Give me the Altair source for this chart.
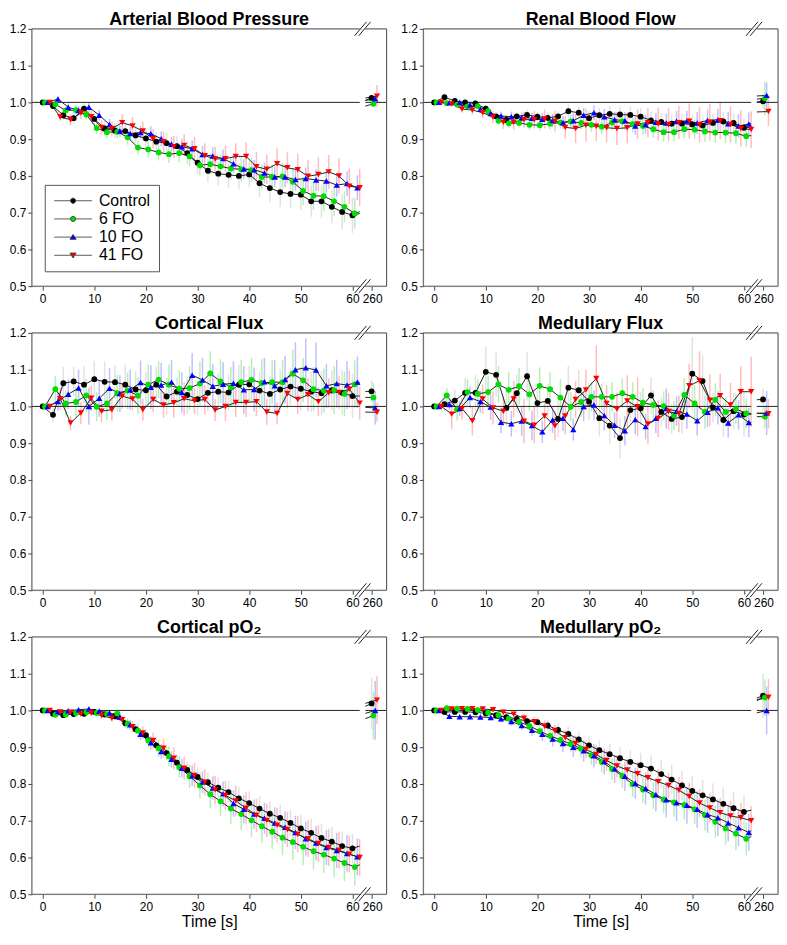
import altair as alt
import pandas as pd

FONT = "Liberation Sans"

SERIES = ["Control", "6 FO", "10 FO", "41 FO"]
COLORS = ["#000000", "#00dd00", "#0000ff", "#ff0000"]
BAR_COLORS = ["#e2e2e2", "#b6f0b6", "#c0c0ff", "#ffbdbd"]
SHAPES = ["circle", "circle", "triangle-up", "triangle-down"]
SIZES = [34, 34, 40, 40]
TIME = [0, 2, 4, 6, 8, 10, 12, 14, 16, 18, 20, 22, 24, 26, 28, 30,
        32, 34, 36, 38, 40, 42, 44, 46, 48, 50, 52, 54, 56, 58, 60]
OFFSETS = [0.0, 0.45, 0.95, 1.4]          # sampling offset of each group (s)
POS_260 = [-0.1, 0.25, 0.6, 0.95]         # small offsets of the 260 s points
X_TICKS = [0, 10, 20, 30, 40, 50, 60]
Y_TICKS = [0.5, 0.6, 0.7, 0.8, 0.9, 1.0, 1.1, 1.2]

# ---------------- Arterial Blood Pressure ----------------
ABP_CONTROL = [1.000, 0.990, 0.965, 0.957, 0.983, 0.955, 0.929, 0.923, 0.922, 0.910, 0.902, 0.893, 0.889, 0.881, 0.862, 0.836,
               0.814, 0.806, 0.803, 0.800, 0.804, 0.780, 0.767, 0.756, 0.751, 0.749, 0.731, 0.731, 0.716, 0.702, 0.693]
ABP_6FO = [1.000, 0.995, 0.978, 0.979, 0.967, 0.930, 0.919, 0.920, 0.905, 0.877, 0.872, 0.864, 0.859, 0.862, 0.853, 0.829,
           0.832, 0.826, 0.820, 0.818, 0.816, 0.797, 0.797, 0.799, 0.784, 0.759, 0.746, 0.745, 0.731, 0.716, 0.698]
ABP_10FO = [1.000, 1.009, 0.987, 0.978, 0.987, 0.965, 0.940, 0.922, 0.915, 0.918, 0.915, 0.901, 0.886, 0.879, 0.874, 0.858,
            0.854, 0.847, 0.833, 0.819, 0.817, 0.808, 0.797, 0.797, 0.790, 0.793, 0.789, 0.786, 0.775, 0.779, 0.768]
ABP_41FO = [1.000, 0.960, 0.953, 0.971, 0.961, 0.932, 0.929, 0.945, 0.936, 0.922, 0.901, 0.893, 0.879, 0.883, 0.874, 0.855,
            0.846, 0.847, 0.853, 0.853, 0.825, 0.818, 0.833, 0.822, 0.817, 0.799, 0.804, 0.811, 0.800, 0.772, 0.768]
ABP_260 = [1.012, 0.996, 1.010, 1.017]
ABP_ERR_CONTROL = [0, .008, .012, .015, .015, .018, .02, .02, .022, .022, .025, .025, .028, .028, .03, .03,
                   .032, .032, .035, .035, .035, .038, .038, .04, .04, .042, .042, .045, .045, .048, .048]
ABP_ERR_6FO = [0, .006, .01, .012, .014, .016, .018, .018, .02, .02, .022, .022, .024, .025, .026, .028,
               .028, .03, .03, .032, .032, .034, .034, .036, .036, .038, .038, .04, .04, .042, .042]
ABP_ERR_10FO = [0, .006, .01, .012, .012, .014, .015, .016, .018, .018, .02, .02, .02, .022, .022, .024,
                .024, .025, .025, .026, .026, .028, .028, .028, .03, .03, .03, .032, .032, .034, .034]
ABP_ERR_41FO = [0, .01, .015, .016, .018, .02, .02, .022, .024, .025, .026, .028, .03, .03, .032, .034,
                .034, .036, .036, .038, .04, .04, .042, .042, .044, .044, .046, .046, .048, .048, .05]
ABP_ERR_260 = [.01, .008, .01, .03]

# ---------------- Renal Blood Flow ----------------
RBF_CONTROL = [1.000, 1.014, 1.004, 1.000, 0.997, 0.983, 0.962, 0.953, 0.962, 0.966, 0.961, 0.958, 0.962, 0.976, 0.972, 0.957,
               0.965, 0.969, 0.967, 0.966, 0.961, 0.951, 0.947, 0.942, 0.942, 0.940, 0.937, 0.944, 0.948, 0.944, 0.931]
RBF_6FO = [1.000, 0.998, 0.994, 0.989, 0.990, 0.976, 0.950, 0.943, 0.944, 0.939, 0.938, 0.942, 0.945, 0.948, 0.944, 0.939,
           0.934, 0.945, 0.948, 0.941, 0.936, 0.927, 0.919, 0.919, 0.927, 0.926, 0.921, 0.918, 0.918, 0.916, 0.908]
RBF_10FO = [1.000, 0.999, 1.000, 0.993, 0.981, 0.970, 0.963, 0.961, 0.959, 0.957, 0.954, 0.951, 0.945, 0.950, 0.965, 0.972,
            0.961, 0.953, 0.950, 0.936, 0.940, 0.946, 0.944, 0.949, 0.949, 0.944, 0.951, 0.953, 0.942, 0.936, 0.941]
RBF_41FO = [1.000, 0.996, 0.982, 0.979, 0.972, 0.960, 0.946, 0.946, 0.953, 0.953, 0.955, 0.949, 0.932, 0.929, 0.938, 0.935,
            0.931, 0.929, 0.931, 0.941, 0.945, 0.941, 0.939, 0.945, 0.949, 0.939, 0.946, 0.950, 0.940, 0.929, 0.926]
RBF_260 = [1.003, 1.011, 1.019, 0.975]
RBF_ERR_CONTROL = [0, .008, .01, .01, .01, .01, .012, .012, .012, .014, .014, .015, .015, .018, .018, .02,
                   .02, .022, .022, .024, .024, .025, .025, .025, .025, .025, .025, .026, .026, .026, .026]
RBF_ERR_6FO = [0, .006, .008, .008, .01, .01, .012, .012, .012, .014, .015, .016, .016, .018, .018, .02,
               .02, .02, .022, .022, .024, .024, .025, .026, .026, .026, .028, .028, .028, .03, .03]
RBF_ERR_10FO = [0, .006, .008, .01, .01, .012, .012, .014, .014, .015, .016, .018, .018, .02, .02, .02,
                .022, .022, .024, .024, .025, .026, .026, .028, .028, .03, .03, .03, .032, .032, .032]
RBF_ERR_41FO = [0, .008, .01, .012, .014, .016, .018, .02, .022, .024, .026, .028, .03, .04, .045, .04,
                .04, .045, .042, .04, .04, .045, .045, .045, .048, .048, .05, .05, .05, .05, .05]
RBF_ERR_260 = [.02, .045, .035, .04]

# ---------------- Cortical Flux ----------------
CF_CONTROL = [1.000, 0.977, 1.063, 1.068, 1.059, 1.074, 1.067, 1.066, 1.059, 1.046, 1.044, 1.059, 1.027, 1.040, 1.031, 1.020,
              1.037, 1.040, 1.038, 1.059, 1.060, 1.043, 1.034, 1.046, 1.054, 1.048, 1.040, 1.036, 1.044, 1.037, 1.028]
CF_6FO = [1.000, 1.047, 1.008, 1.012, 1.030, 0.999, 1.008, 1.036, 1.043, 1.029, 1.059, 1.073, 1.059, 1.048, 1.050, 1.062,
          1.090, 1.068, 1.052, 1.066, 1.072, 1.064, 1.066, 1.066, 1.089, 1.071, 1.047, 1.043, 1.044, 1.034, 1.060]
CF_10FO = [1.000, 1.013, 1.033, 1.050, 1.000, 1.022, 1.049, 1.035, 1.045, 1.065, 1.052, 1.058, 1.066, 1.038, 1.085, 1.072,
           1.055, 1.060, 1.063, 1.045, 1.046, 1.067, 1.056, 1.073, 1.100, 1.105, 1.099, 1.056, 1.062, 1.058, 1.066]
CF_41FO = [1.000, 1.021, 0.955, 0.982, 1.022, 0.987, 0.991, 1.028, 1.020, 0.991, 1.019, 1.004, 1.010, 1.021, 1.015, 1.019,
           0.990, 1.000, 1.011, 1.011, 1.013, 0.985, 0.981, 1.035, 1.019, 1.032, 1.013, 1.037, 1.038, 1.047, 1.009]
CF_260 = [1.041, 1.024, 0.996, 0.984]
CF_ERR_CONTROL = [0, .02, .045, .04, .05, .05, .055, .045, .055, .05, .05, .05, .05, .04, .05, .045,
                  .05, .05, .05, .055, .05, .05, .05, .055, .05, .06, .055, .06, .055, .06, .06]
CF_ERR_6FO = [0, .035, .035, .04, .045, .04, .045, .05, .05, .05, .055, .05, .055, .05, .06, .06,
              .06, .06, .055, .06, .06, .065, .06, .06, .065, .06, .06, .06, .065, .06, .065]
CF_ERR_10FO = [0, .025, .04, .05, .05, .05, .055, .05, .055, .06, .06, .06, .06, .055, .06, .06,
               .06, .06, .06, .065, .06, .065, .07, .065, .075, .08, .075, .06, .065, .065, .07]
CF_ERR_41FO = [0, .03, .02, .03, .035, .03, .03, .035, .03, .03, .035, .035, .04, .045, .035, .04,
               .03, .04, .04, .04, .04, .035, .03, .04, .04, .045, .04, .04, .045, .05, .045]
CF_ERR_260 = [.03, .04, .045, .025]

# ---------------- Medullary Flux ----------------
MF_CONTROL = [1.000, 1.006, 1.016, 1.037, 1.037, 1.094, 1.086, 0.996, 1.036, 1.082, 1.009, 1.015, 0.966, 1.051, 1.044, 1.013,
              0.968, 0.948, 0.914, 0.990, 0.995, 1.030, 0.985, 0.966, 0.971, 1.089, 1.069, 0.997, 0.963, 0.987, 0.978]
MF_6FO = [1.000, 1.030, 0.992, 1.039, 1.034, 1.039, 1.060, 1.045, 1.055, 1.033, 1.056, 1.047, 1.024, 0.999, 1.012, 1.026,
          1.026, 1.026, 1.036, 1.026, 1.010, 1.004, 1.001, 0.975, 1.031, 1.008, 0.985, 1.018, 0.985, 0.993, 0.981]
MF_10FO = [1.000, 1.005, 0.994, 1.024, 1.013, 0.998, 0.957, 0.953, 0.960, 0.948, 0.931, 0.963, 0.968, 0.937, 1.000, 1.004,
           0.975, 0.949, 0.934, 0.964, 0.945, 0.968, 0.994, 0.987, 0.979, 0.961, 0.984, 0.996, 0.955, 0.977, 0.956]
MF_41FO = [1.000, 0.979, 0.994, 0.961, 1.020, 0.996, 0.987, 1.020, 0.960, 0.949, 0.974, 0.947, 0.974, 1.019, 1.045, 1.076,
           1.008, 0.993, 1.015, 0.999, 0.952, 0.967, 0.986, 0.980, 1.056, 1.070, 1.017, 1.029, 1.004, 1.040, 1.040]
MF_260 = [1.019, 0.972, 0.982, 0.980]
MF_ERR_CONTROL = [0, .02, .03, .04, .05, .07, .06, .05, .05, .065, .04, .045, .05, .06, .055, .05,
                  .05, .05, .055, .04, .045, .05, .04, .04, .045, .1, .07, .04, .045, .05, .06]
MF_ERR_6FO = [0, .02, .03, .035, .04, .045, .05, .05, .05, .045, .05, .045, .05, .04, .04, .04,
              .035, .04, .04, .04, .04, .04, .04, .04, .045, .05, .045, .045, .04, .04, .04]
MF_ERR_10FO = [0, .015, .02, .03, .03, .035, .03, .035, .04, .04, .03, .035, .035, .03, .04, .04,
               .04, .035, .04, .04, .035, .04, .055, .04, .04, .04, .04, .045, .04, .04, .04]
MF_ERR_41FO = [0, .04, .03, .04, .04, .045, .04, .05, .06, .05, .04, .04, .05, .05, .055, .09,
               .05, .045, .07, .08, .055, .05, .05, .05, .06, .08, .07, .06, .06, .07, .095]
MF_ERR_260 = [.03, .03, .06, .04]

# ---------------- Cortical pO2 ----------------
CP_CONTROL = [1.000, 0.991, 0.987, 0.990, 0.991, 0.996, 0.989, 0.984, 0.965, 0.949, 0.933, 0.905, 0.884, 0.858, 0.838, 0.819,
              0.805, 0.790, 0.778, 0.761, 0.748, 0.733, 0.719, 0.708, 0.694, 0.679, 0.667, 0.653, 0.643, 0.631, 0.625]
CP_6FO = [1.000, 0.988, 0.989, 0.993, 0.995, 0.993, 0.990, 0.992, 0.964, 0.945, 0.918, 0.897, 0.875, 0.846, 0.821, 0.796,
          0.772, 0.753, 0.733, 0.718, 0.701, 0.685, 0.670, 0.654, 0.642, 0.629, 0.617, 0.608, 0.597, 0.585, 0.574]
CP_10FO = [1.000, 0.997, 0.999, 1.002, 1.004, 0.998, 0.993, 0.982, 0.961, 0.935, 0.912, 0.888, 0.867, 0.843, 0.822, 0.805,
           0.789, 0.773, 0.747, 0.731, 0.718, 0.707, 0.694, 0.682, 0.668, 0.651, 0.639, 0.627, 0.619, 0.611, 0.602]
CP_41FO = [1.000, 0.996, 0.995, 0.990, 0.993, 0.986, 0.979, 0.975, 0.956, 0.939, 0.918, 0.897, 0.870, 0.843, 0.823, 0.805,
           0.784, 0.769, 0.754, 0.734, 0.715, 0.701, 0.688, 0.676, 0.663, 0.651, 0.638, 0.627, 0.620, 0.609, 0.600]
CP_260 = [1.019, 0.986, 1.000, 1.028]
CP_ERR_CONTROL = [0, .003, .004, .005, .006, .007, .008, .01, .012, .014, .016, .018, .02, .022, .024, .026,
                  .027, .028, .03, .031, .032, .033, .034, .035, .036, .037, .038, .039, .04, .04, .04]
CP_ERR_6FO = [0, .004, .005, .006, .007, .008, .01, .012, .015, .018, .02, .024, .028, .03, .032, .035,
              .038, .04, .042, .044, .045, .046, .047, .048, .049, .05, .05, .05, .05, .05, .05]
CP_ERR_10FO = [0, .003, .004, .005, .006, .007, .009, .011, .013, .015, .018, .02, .022, .025, .028, .03,
               .032, .034, .036, .038, .04, .042, .043, .044, .045, .046, .047, .048, .048, .05, .05]
CP_ERR_41FO = [0, .004, .005, .006, .007, .008, .01, .012, .015, .018, .022, .026, .03, .032, .034, .036,
               .038, .04, .042, .044, .045, .046, .047, .048, .049, .05, .05, .05, .05, .05, .05]
CP_ERR_260 = [.07, .065, .08, .065]

# ---------------- Medullary pO2 ----------------
MP_CONTROL = [1.000, 0.996, 0.996, 0.996, 0.995, 0.992, 0.987, 0.982, 0.977, 0.971, 0.968, 0.959, 0.947, 0.936, 0.921, 0.905,
              0.892, 0.881, 0.870, 0.860, 0.851, 0.842, 0.827, 0.812, 0.796, 0.781, 0.769, 0.758, 0.746, 0.734, 0.724]
MP_6FO = [1.000, 1.006, 1.005, 1.004, 1.001, 0.994, 0.987, 0.978, 0.969, 0.958, 0.944, 0.931, 0.920, 0.909, 0.896, 0.878,
          0.860, 0.841, 0.822, 0.799, 0.785, 0.769, 0.758, 0.750, 0.743, 0.731, 0.715, 0.697, 0.679, 0.665, 0.651]
MP_10FO = [1.000, 0.984, 0.983, 0.983, 0.982, 0.981, 0.977, 0.970, 0.959, 0.946, 0.935, 0.922, 0.910, 0.900, 0.890, 0.877,
           0.861, 0.841, 0.821, 0.802, 0.788, 0.771, 0.757, 0.749, 0.742, 0.731, 0.717, 0.708, 0.694, 0.681, 0.668]
MP_41FO = [1.000, 1.004, 1.005, 1.005, 1.004, 1.002, 0.995, 0.990, 0.979, 0.969, 0.957, 0.944, 0.926, 0.910, 0.894, 0.880,
           0.864, 0.849, 0.838, 0.828, 0.817, 0.806, 0.796, 0.783, 0.766, 0.748, 0.735, 0.722, 0.713, 0.708, 0.700]
MP_260 = [1.040, 1.035, 1.000, 1.036]
MP_ERR_CONTROL = [0, .003, .004, .005, .006, .007, .008, .009, .01, .012, .014, .016, .018, .02, .022, .024,
                  .026, .028, .03, .032, .034, .036, .038, .04, .04, .042, .042, .044, .044, .045, .045]
MP_ERR_6FO = [0, .003, .004, .005, .006, .007, .008, .01, .012, .014, .016, .018, .02, .022, .024, .026,
              .028, .03, .032, .034, .036, .037, .038, .039, .04, .041, .042, .043, .044, .045, .045]
MP_ERR_10FO = [0, .004, .005, .006, .007, .008, .009, .011, .013, .015, .018, .02, .023, .026, .029, .032,
               .035, .038, .04, .042, .044, .046, .048, .05, .05, .05, .05, .05, .05, .05, .05]
MP_ERR_41FO = [0, .003, .004, .005, .006, .007, .008, .01, .012, .014, .016, .018, .02, .022, .024, .026,
               .028, .03, .031, .032, .033, .034, .035, .036, .037, .038, .039, .04, .04, .04, .04]
MP_ERR_260 = [.06, .05, .065, .05]

PANELS = [
    ("Arterial Blood Pressure", [ABP_CONTROL, ABP_6FO, ABP_10FO, ABP_41FO], ABP_260,
     [ABP_ERR_CONTROL, ABP_ERR_6FO, ABP_ERR_10FO, ABP_ERR_41FO], ABP_ERR_260),
    ("Renal Blood Flow", [RBF_CONTROL, RBF_6FO, RBF_10FO, RBF_41FO], RBF_260,
     [RBF_ERR_CONTROL, RBF_ERR_6FO, RBF_ERR_10FO, RBF_ERR_41FO], RBF_ERR_260),
    ("Cortical Flux", [CF_CONTROL, CF_6FO, CF_10FO, CF_41FO], CF_260,
     [CF_ERR_CONTROL, CF_ERR_6FO, CF_ERR_10FO, CF_ERR_41FO], CF_ERR_260),
    ("Medullary Flux", [MF_CONTROL, MF_6FO, MF_10FO, MF_41FO], MF_260,
     [MF_ERR_CONTROL, MF_ERR_6FO, MF_ERR_10FO, MF_ERR_41FO], MF_ERR_260),
    ("Cortical pO\u2082", [CP_CONTROL, CP_6FO, CP_10FO, CP_41FO], CP_260,
     [CP_ERR_CONTROL, CP_ERR_6FO, CP_ERR_10FO, CP_ERR_41FO], CP_ERR_260),
    ("Medullary pO\u2082", [MP_CONTROL, MP_6FO, MP_10FO, MP_41FO], MP_260,
     [MP_ERR_CONTROL, MP_ERR_6FO, MP_ERR_10FO, MP_ERR_41FO], MP_ERR_260),
]

# ---------------- layout / broken axis ----------------
W, H = 357, 259
XMIN, XMAX = -2.1, 66.6
Y0, Y1 = 0.5, 1.2
GAP_L, GAP_R = 61.4, 62.5
BREAK_C = 61.95
X260 = 63.8
DY = 7.0 / H * (Y1 - Y0)

LEGEND_PATHS = [
    "M-3.8,0H-0.52M0.52,0H3.8M0.52,0A0.52,0.52,0,1,1,-0.52,0A0.52,0.52,0,1,1,0.52,0Z",
    "M-3.8,0H-0.52M0.52,0H3.8M0.52,0A0.52,0.52,0,1,1,-0.52,0A0.52,0.52,0,1,1,0.52,0Z",
    "M-3.8,0H-0.4M0.4,0H3.8M0,-0.55L0.62,0.45L-0.62,0.45Z",
    "M-3.8,0H-0.4M0.4,0H3.8M0,0.55L0.62,-0.45L-0.62,-0.45Z",
]

xscale = alt.Scale(domain=[XMIN, XMAX], nice=False, zero=False)
yscale = alt.Scale(domain=[Y0, Y1], nice=False, zero=False)


def make_panel(idx, title, vals, v260, errs, e260):
    bottom = idx >= 4
    pts, lines = [], []
    for k, s in enumerate(SERIES):
        assert len(vals[k]) == len(TIME) and len(errs[k]) == len(TIME), (title, s)
        for i, t in enumerate(TIME):
            x = t + OFFSETS[k]
            v, e = vals[k][i], errs[k][i]
            pts.append({"series": s, "x": x, "v": v, "lo": v - e, "hi": v + e})
            lines.append({"seg": s + "|a", "x": x, "v": v})
        last_x = TIME[-1] + OFFSETS[k]
        last_v = vals[k][-1]
        if last_x < GAP_L:
            lines.append({"seg": s + "|a", "x": GAP_L, "v": last_v + 0.015 * (v260[k] - last_v)})
        xe = X260 + POS_260[k]
        pts.append({"series": s, "x": xe, "v": v260[k], "lo": v260[k] - e260[k], "hi": v260[k] + e260[k]})
        lines.append({"seg": s + "|b", "x": GAP_R, "v": v260[k] - 0.02 * (v260[k] - last_v)})
        lines.append({"seg": s + "|b", "x": xe, "v": v260[k]})
    pts_df = pd.DataFrame(pts)
    lines_df = pd.DataFrame(lines)

    frame_df = pd.DataFrame([
        {"x": XMIN, "x2": XMIN, "v": Y0, "v2": Y1},
        {"x": XMAX, "x2": XMAX, "v": Y0, "v2": Y1},
        {"x": XMIN, "x2": GAP_L, "v": Y1, "v2": Y1},
        {"x": GAP_R, "x2": XMAX, "v": Y1, "v2": Y1},
        {"x": XMIN, "x2": GAP_L, "v": Y0, "v2": Y0},
        {"x": GAP_R, "x2": XMAX, "v": Y0, "v2": Y0},
    ])
    ref_df = pd.DataFrame([
        {"x": XMIN, "x2": GAP_L, "v": 1.0, "v2": 1.0},
        {"x": GAP_R, "x2": XMAX, "v": 1.0, "v2": 1.0},
    ])
    slash = []
    for edge in (Y0, Y1):
        for d in (-0.4, 0.4):
            slash.append({"x": BREAK_C + d - 1.15, "x2": BREAK_C + d + 1.15,
                          "v": edge - DY, "v2": edge + DY})
    slash_df = pd.DataFrame(slash)

    xaxis = alt.Axis(values=X_TICKS + [X260], labelExpr="abs(datum.value - %s) < 0.01 ? '260' : datum.label" % X260,
                     domain=False, grid=False, tickSize=4, tickColor="#444", labelPadding=3,
                     labelFontSize=12, labelColor="black", labelFont=FONT,
                     title="Time [s]" if bottom else None, titleFontSize=16, titleFontWeight="normal",
                     titleFont=FONT, titleColor="black", titlePadding=1)
    yaxis = alt.Axis(values=Y_TICKS, format=".1f", domain=False, grid=False, tickSize=4, tickColor="#444",
                     labelPadding=2, labelFontSize=12, labelColor="black", labelFont=FONT, title=None)

    X = alt.X("x:Q", scale=xscale, axis=xaxis)
    Yv = alt.Y("v:Q", scale=yscale, axis=yaxis)

    frame = alt.Chart(frame_df).mark_rule(color="#555", strokeWidth=1).encode(x=X, x2="x2:Q", y=Yv, y2="v2:Q")
    ref = alt.Chart(ref_df).mark_rule(color="#222", strokeWidth=1).encode(x=X, x2="x2:Q", y=Yv, y2="v2:Q")
    slashes = alt.Chart(slash_df).mark_rule(color="#222", strokeWidth=1).encode(x=X, x2="x2:Q", y=Yv, y2="v2:Q")
    bars = alt.Chart(pts_df).mark_rule(strokeWidth=1.5).encode(
        x=X, y=alt.Y("lo:Q", scale=yscale, axis=yaxis), y2="hi:Q",
        color=alt.Color("series:N", scale=alt.Scale(domain=SERIES, range=BAR_COLORS), legend=None))
    line = alt.Chart(lines_df).mark_line(color="#222", strokeWidth=1).encode(
        x=X, y=Yv, detail="seg:N", order="x:Q")
    layers = [bars, ref, line]
    for k, s in enumerate(SERIES):
        layers.append(
            alt.Chart(pts_df).transform_filter(alt.datum.series == s).mark_point(
                filled=True, shape=SHAPES[k], size=SIZES[k], color=COLORS[k], opacity=1, strokeWidth=0
            ).encode(x=X, y=Yv))
    layers += [frame, slashes]

    if idx == 0:
        leg = alt.Legend(title=None, orient="none", legendX=13, legendY=157, labelFont=FONT, labelFontSize=16,
                         labelColor="black", padding=8, rowPadding=2.3, symbolSize=100, symbolOffset=12.5,
                         labelOffset=18, symbolStrokeWidth=0.8, strokeColor="#555", fillColor="white",
                         labelLimit=200, symbolOpacity=1)
        dummy = alt.Chart(pts_df).transform_filter("false").mark_point(
            filled=True, size=100, opacity=1, strokeWidth=0.8).encode(
            x=X, y=Yv,
            fill=alt.Fill("series:N", scale=alt.Scale(domain=SERIES, range=COLORS), legend=leg),
            stroke=alt.Stroke("series:N", scale=alt.Scale(domain=SERIES, range=["#333"] * 4), legend=leg),
            shape=alt.Shape("series:N", scale=alt.Scale(domain=SERIES, range=LEGEND_PATHS), legend=leg),
        )
        layers.append(dummy)

    return alt.layer(*layers).properties(
        width=W, height=H,
        title=alt.TitleParams(text=title, fontSize=18, fontWeight="bold", font=FONT, color="black",
                              offset=-8, anchor="middle"))


panels = [make_panel(i, *p) for i, p in enumerate(PANELS)]

chart = alt.concat(*panels, columns=2, spacing={"row": 47, "column": 37}, bounds="flush").resolve_scale(
    fill="independent", stroke="independent", shape="independent"
).resolve_legend(
    fill="independent", stroke="independent", shape="independent"
).properties(padding=0).configure_view(stroke=None).configure(font=FONT)

chart.save("out.html", embed_options={"renderer": "svg", "actions": False})
